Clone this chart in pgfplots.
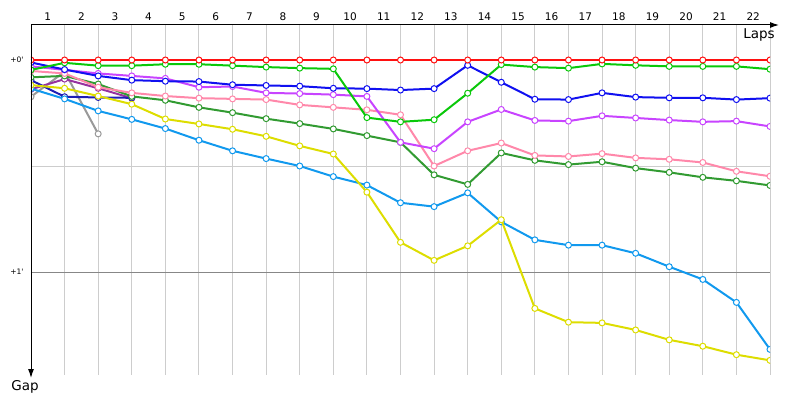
\documentclass[border=0pt]{standalone}
\usepackage{pgfplots}
\pgfplotsset{compat=1.18}
\usepackage{fontspec}
\setmainfont{DejaVu Sans}
\usetikzlibrary{arrows.meta}
\definecolor{cred}{RGB}{255,16,16}
\definecolor{cgreen}{RGB}{10,200,10}
\definecolor{cblue}{RGB}{16,16,240}
\definecolor{cviolet}{RGB}{200,68,255}
\definecolor{cpink}{RGB}{255,136,170}
\definecolor{cdgreen}{RGB}{50,155,50}
\definecolor{cyellow}{RGB}{221,221,0}
\definecolor{clblue}{RGB}{17,153,238}
\definecolor{cgray}{RGB}{153,153,153}
\definecolor{cpurple}{RGB}{150,50,160}
\definecolor{cnavy}{RGB}{30,30,180}
\definecolor{gridl}{RGB}{205,205,205}
\definecolor{gridd}{RGB}{135,135,135}
\pgfplotsset{
  ser/.style={color=#1, line width=2pt, mark=*, mark size=3pt,
    mark options={fill=white, draw=#1, line width=1pt, solid}},
}
\begin{document}
\begin{tikzpicture}[x=1pt,y=1pt]
\path[use as bounding box] (0,0) rectangle (800,400);
\begin{axis}[at={(31pt,25pt)}, anchor=south west, scale only axis,
  width=739pt, height=350pt,
  xmin=0, xmax=22, ymin=-9.906, ymax=89.15, y dir=reverse,
  axis line style={draw=none}, tick style={draw=none},
  clip marker paths=true,
  xtick={1,...,22}, xticklabels={},
  xmajorgrids, ymajorgrids,
  x grid style={color=gridl, line width=1pt},
  y grid style={color=gridd, line width=1pt},
  ytick={0,60}, yticklabels={+0\textquotesingle,+1\textquotesingle},
  yticklabel style={font=\fontsize{7.5}{8}\selectfont, anchor=east, xshift=-4pt},
  /pgf/number format/assume math mode=true,
]
\draw[color=gridl, line width=1pt] (axis cs:0,30) -- (axis cs:22,30);
\addplot[ser=cgray] coordinates {(0,10.4)(1,3.3)(2,20.9)};
\addplot[ser=cpurple] coordinates {(0,8.3)(1,5.4)(2,8.0)(3,10.8)};
\addplot[ser=cnavy] coordinates {(0,5.7)(1,10.4)(2,10.6)(3,10.7)};
\addplot[ser=clblue] coordinates {(0,8.1)(1,11.0)(2,14.4)(3,16.8)(4,19.4)(5,22.7)(6,25.7)(7,27.9)(8,30.0)(9,33.0)(10,35.4)(11,40.4)(12,41.5)(13,37.6)(14,45.8)(15,50.9)(16,52.4)(17,52.4)(18,54.7)(19,58.5)(20,62.1)(21,68.6)(22,81.9)};
\addplot[ser=cyellow] coordinates {(0,7.1)(1,8.0)(2,10.2)(3,12.5)(4,16.7)(5,18.1)(6,19.6)(7,21.6)(8,24.3)(9,26.6)(10,37.4)(11,51.6)(12,56.7)(13,52.6)(14,45.2)(15,70.3)(16,74.2)(17,74.4)(18,76.4)(19,79.2)(20,81.0)(21,83.4)(22,85.0)};
\addplot[ser=cdgreen] coordinates {(0,4.9)(1,4.5)(2,6.8)(3,10.3)(4,11.4)(5,13.4)(6,14.9)(7,16.6)(8,18.0)(9,19.5)(10,21.4)(11,23.3)(12,32.5)(13,35.2)(14,26.3)(15,28.4)(16,29.6)(17,28.8)(18,30.6)(19,31.8)(20,33.2)(21,34.2)(22,35.5)};
\addplot[ser=cpink] coordinates {(0,3.1)(1,3.8)(2,7.7)(3,9.3)(4,10.2)(5,10.8)(6,11.0)(7,11.2)(8,12.7)(9,13.4)(10,14.1)(11,15.5)(12,30.0)(13,25.7)(14,23.5)(15,27.0)(16,27.3)(17,26.5)(18,27.7)(19,28.1)(20,29.0)(21,31.5)(22,32.9)};
\addplot[ser=cviolet] coordinates {(0,1.8)(1,2.8)(2,3.8)(3,4.5)(4,5.2)(5,7.7)(6,7.5)(7,9.3)(8,9.5)(9,9.8)(10,10.3)(11,23.3)(12,25.1)(13,17.5)(14,14.0)(15,17.1)(16,17.3)(17,15.8)(18,16.4)(19,17.0)(20,17.5)(21,17.3)(22,18.8)};
\addplot[ser=cblue] coordinates {(0,0.7)(1,2.7)(2,4.5)(3,5.7)(4,6.0)(5,6.1)(6,7.0)(7,7.2)(8,7.4)(9,8.0)(10,8.1)(11,8.5)(12,8.1)(13,1.5)(14,6.3)(15,11.1)(16,11.2)(17,9.3)(18,10.5)(19,10.7)(20,10.7)(21,11.2)(22,10.8)};
\addplot[ser=cgreen] coordinates {(0,2.8)(1,0.8)(2,1.6)(3,1.6)(4,1.2)(5,1.2)(6,1.6)(7,2.0)(8,2.3)(9,2.5)(10,16.3)(11,17.5)(12,16.9)(13,9.4)(14,1.3)(15,2.0)(16,2.3)(17,1.1)(18,1.5)(19,1.8)(20,1.8)(21,1.8)(22,2.6)};
\addplot[ser=cred] coordinates {(0,0)(1,0)(2,0)(3,0)(4,0)(5,0)(6,0)(7,0)(8,0)(9,0)(10,0)(11,0)(12,0)(13,0)(14,0)(15,0)(16,0)(17,0)(18,0)(19,0)(20,0)(21,0)(22,0)};
\end{axis}
\draw[line width=1pt, -{Latex[length=9pt,width=6pt]}] (31,375) -- (779,375);
\draw[line width=1pt, -{Latex[length=9pt,width=6pt]}] (31,375) -- (31,22);
\foreach \k in {1,...,22}
  \node[font=\fontsize{10.5}{12}\selectfont, anchor=base] at ({31+(\k-0.5)*33.5909},379) {\k};
\node[font=\fontsize{13.5}{15}\selectfont, anchor=base] at (759,362) {Laps};
\node[font=\fontsize{13.5}{15}\selectfont, anchor=base] at (25,10) {Gap};
\end{tikzpicture}
\end{document}
